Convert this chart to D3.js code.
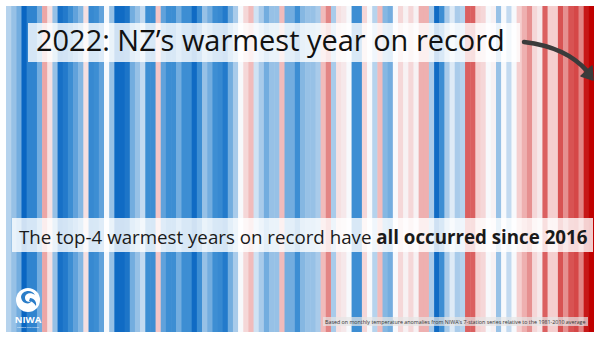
<!DOCTYPE html>
<html>
<head>
<meta charset="utf-8">
<script src="https://cdn.jsdelivr.net/npm/d3@7"></script>
<style>
  body { margin: 0; background: #fff; }
  svg { display: block; font-family: "Open Sans", sans-serif; }
</style>
</head>
<body>
<div id="chart"></div>
<script>
// ------------------------------------------------------------ //
// Data: NZ 7-station annual anomalies (deg C, vs 1981-2010)    //
// ------------------------------------------------------------ //
var years = d3.range(1909, 2023);
var anomalies = [
  -0.25, -0.35, -0.45, -1.00, -0.70, -0.70, -0.45,  0.45,  0.15, -0.35,   // 1909-1918
  -0.90, -0.80, -0.60, -0.50, -0.40,  0.15, -0.65, -0.60, -0.50,  0.00,   // 1919-1928
  -0.35, -0.95, -0.95, -0.85, -0.45, -0.35, -0.20, -0.60, -0.60,  0.30,   // 1929-1938
  -0.50, -0.60, -0.60, -0.45, -0.60, -0.60, -0.95, -0.60, -0.35, -0.45,   // 1939-1948
  -0.60, -0.65, -0.80, -0.45, -0.30,  0.00,  0.20,  0.35, -0.15, -0.30,   // 1949-1958
  -0.45, -0.35, -0.35,  0.35, -0.45, -0.45, -0.60, -0.40, -0.35, -0.35,   // 1959-1968
  -0.30,  0.35,  0.60, -0.30,  0.15,  0.10,  0.00, -0.60, -0.60,  0.20,   // 1969-1978
   0.00, -0.25,  0.35, -0.40, -0.45,  0.00,  0.20,  0.05,  0.20,  0.05,   // 1979-1988
   0.40,  0.40, -0.30, -0.95, -0.60, -0.30, -0.10, -0.30, -0.25,  0.75,   // 1989-1998
   0.75,  0.25,  0.20,  0.00,  0.05, -0.35,  0.00, -0.20,  0.00,  0.25,   // 1999-2008
   0.40,  0.55,  0.20,  0.10,  0.75,  0.25,  0.25,  0.80,  0.55,  0.80,   // 2009-2018
   0.85,  0.60,  1.05,  1.15                                             // 2019-2022
];
var colorStops = [-1.0, -0.6, -0.3, 0, 0.3, 0.6, 0.9, 1.15];
var colorRange = ["#0a66c2", "#3d8ed3", "#a9cbea", "#f7f9fc",
                  "#f4c6c6", "#e38585", "#d23a3a", "#c00000"];

var headline = "2022: NZ\u2019s warmest year on record";
var subPlain = "The top-4 warmest years on record have ";
var subBold = "all occurred since 2016";
var footnote = "Based on monthly temperature anomalies from NIWA\u2019s 7-station series relative to the 1981-2010 average";

var data = years.map(function(y, i) { return {year: y, value: anomalies[i]}; });

// ------------------------------------------------------------ //
// Canvas                                                       //
// ------------------------------------------------------------ //
var width = 600, height = 338;
var margin = {top: 6, right: 6, bottom: 6, left: 6};

var svg = d3.select("#chart")
  .append("svg")
    .attr("width", width)
    .attr("height", height);

var x = d3.scaleBand()
  .domain(years)
  .range([margin.left, width - margin.right])
  .padding(0);

var color = d3.scaleLinear()
  .domain(colorStops)
  .range(colorRange)
  .interpolate(d3.interpolateRgb)
  .clamp(true);

// ------- //
// Stripes //
// ------- //
svg.append("g")
  .selectAll("rect")
  .data(data)
  .enter()
  .append("rect")
    .attr("x", function(d) { return x(d.year); })
    .attr("y", margin.top)
    .attr("width", function(d, i) { return x.bandwidth() + (i < data.length - 1 ? 0.5 : 0); })
    .attr("height", height - margin.top - margin.bottom)
    .style("fill", function(d) { return color(d.value); });

// shrink/grow a text element until it spans the wanted width
function fitText(sel, target) {
  var len = sel.node().getComputedTextLength();
  var fs = parseFloat(sel.attr("font-size"));
  sel.attr("font-size", fs * target / len);
}

// -------- //
// Headline //
// -------- //
svg.append("rect")
  .attr("x", 28).attr("y", 23)
  .attr("width", 492).attr("height", 39)
  .style("fill", "#fff").style("opacity", 0.8);

var head = svg.append("text")
  .attr("x", 36).attr("y", 51)
  .attr("font-size", 26)
  .style("fill", "#111")
  .text(headline);
fitText(head, 469);

// ----- //
// Arrow //
// ----- //
svg.append("path")
  .attr("d", "M524,42 Q566,47 587,71")
  .style("fill", "none")
  .style("stroke", "#3b3b3b")
  .style("stroke-width", 4.5)
  .style("stroke-linecap", "round");
svg.append("path")
  .attr("d", "M593,80 L581,76 L592,66 Z")
  .style("fill", "#3b3b3b")
  .style("stroke", "#3b3b3b")
  .style("stroke-width", 1.5)
  .style("stroke-linejoin", "round");

// -------- //
// Subtitle //
// -------- //
svg.append("rect")
  .attr("x", 12).attr("y", 218)
  .attr("width", 581).attr("height", 34)
  .style("fill", "#fff").style("opacity", 0.8);

var sub = svg.append("text")
  .attr("x", 19).attr("y", 244)
  .attr("font-size", 22)
  .style("fill", "#1a1a1a");
sub.append("tspan").text(subPlain);
sub.append("tspan").attr("font-weight", 700).text(subBold);
fitText(sub, 569);

// -------- //
// Footnote //
// -------- //
svg.append("rect")
  .attr("x", 323).attr("y", 317)
  .attr("width", 265).attr("height", 9)
  .style("fill", "#e6e6e6").style("opacity", 0.7);

var foot = svg.append("text")
  .attr("x", 325).attr("y", 324)
  .attr("font-size", 6)
  .style("fill", "#333")
  .text(footnote);
fitText(foot, 261);

// ---------- //
// NIWA logo  //
// ---------- //
var logo = svg.append("g").attr("transform", "translate(28,300)");
logo.append("circle").attr("r", 12).style("fill", "#fff");
logo.append("path")
  .attr("d", "M-7,-3 C-6,-10 4,-11 7,-5 C3,-8 -3,-7 -3,-2 C-3,2 2,3 4,0 C3,5 -6,5 -7,-3 Z")
  .style("fill", "#2b7dc8");
logo.append("path")
  .attr("d", "M2,-2 C6,-2 9,2 8,6 C6,3 4,1 1,1 Z")
  .style("fill", "#2b7dc8");
logo.append("text")
  .attr("x", 0).attr("y", 23)
  .attr("text-anchor", "middle")
  .attr("font-size", 9.5)
  .attr("font-weight", 700)
  .style("fill", "#fff")
  .text("NIWA");
logo.append("text")
  .attr("x", 0).attr("y", 28)
  .attr("text-anchor", "middle")
  .attr("font-size", 2.5)
  .style("fill", "#fff")
  .text("Taihoro Nukurangi");
</script>
</body>
</html>
